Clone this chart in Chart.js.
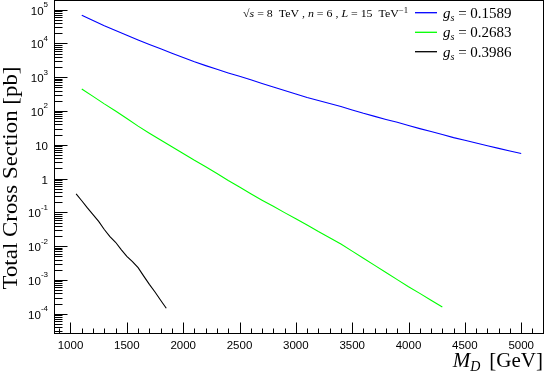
<!DOCTYPE html>
<html>
<head>
<meta charset="utf-8">
<script src="https://cdn.jsdelivr.net/npm/chart.js@4/dist/chart.umd.min.js"></script>
<style>
  html, body { margin: 0; padding: 0; background: #fff; }
  #wrap { width: 545px; height: 372px; }
</style>
</head>
<body>
<div id="wrap"><canvas id="xsec" width="545" height="372"></canvas></div>
<script>
// M_D values [GeV]
const massBlue = [1100, 1200, 1300, 1400, 1500, 1600, 1700, 1800, 1900, 2000,
  2100, 2200, 2300, 2400, 2500, 2600, 2700, 2800, 2900, 3000,
  3100, 3200, 3300, 3400, 3500, 3600, 3700, 3800, 3900, 4000,
  4100, 4200, 4300, 4400, 4500, 4600, 4700, 4800, 4900, 5000];
const massGreen = [1100, 1200, 1300, 1400, 1500, 1600, 1700, 1800, 1900, 2000,
  2100, 2200, 2300, 2400, 2500, 2600, 2700, 2800, 2900, 3000,
  3100, 3200, 3300, 3400, 3500, 3600, 3700, 3800, 3900, 4000,
  4100, 4200, 4300];
const massBlack = [1050, 1100, 1150, 1200, 1250, 1300, 1350, 1400, 1450,
  1500, 1550, 1600, 1650, 1700, 1750, 1800, 1850];

// total cross section [pb]
const xsecBlue = [6.8e4, 4.7e4, 3.3e4, 2.4e4, 1.74e4, 1.26e4, 9300, 6900, 5100, 3800,
  2850, 2190, 1700, 1330, 1060, 840, 650, 510, 400, 316,
  251, 204, 166, 135, 107, 85, 69, 56, 46, 37,
  30, 24.5, 20, 16.2, 13.5, 11.2, 9.3, 7.8, 6.5, 5.5];
const xsecGreen = [447, 269, 162, 100, 60, 35.5, 21.9, 13.8, 8.7, 5.5,
  3.47, 2.24, 1.41, 0.87, 0.56, 0.355, 0.229, 0.151, 0.098, 0.065,
  0.042, 0.027, 0.0178, 0.0115, 0.0071, 0.0044, 0.0027, 0.00166, 0.00102, 0.00063,
  0.00040, 0.00025, 0.000158];
const xsecBlack = [0.35, 0.22, 0.135, 0.085, 0.054, 0.031, 0.019, 0.0130, 0.0079,
  0.0050, 0.0035, 0.0023, 0.0013, 0.00074, 0.00044, 0.00025, 0.000145];

const couplings = ['0.1589', '0.2683', '0.3986'];
const lineColors = ['#0000ff', '#00ff00', '#000000'];

const xTicks = [1000, 1500, 2000, 2500, 3000, 3500, 4000, 4500, 5000];
const yDecades = [-4, -3, -2, -1, 0, 1, 2, 3, 4, 5];

const toPoints = (xs, ys) => xs.map((x, i) => ({ x: x, y: ys[i] }));

const SANS = '"Liberation Sans", Arial, sans-serif';
const SERIF = '"Liberation Serif", "DejaVu Serif", serif';

// draw a row of [text, font, dy, extraGap] pieces starting at x
function drawPieces(ctx, pieces, x, baseline) {
  let cx = x;
  pieces.forEach(p => {
    ctx.font = p[1];
    ctx.fillText(p[0], cx, baseline + (p[2] || 0));
    cx += ctx.measureText(p[0]).width + (p[3] || 0);
  });
  return cx;
}
function piecesWidth(ctx, pieces) {
  let w = 0;
  pieces.forEach(p => { ctx.font = p[1]; w += ctx.measureText(p[0]).width + (p[3] || 0); });
  return w;
}

const rootFrame = {
  id: 'rootFrame',
  afterDraw(chart) {
    const ctx = chart.ctx;
    const a = chart.chartArea;
    const xs = chart.scales.x;
    const ys = chart.scales.y;
    ctx.save();
    ctx.strokeStyle = '#000';
    ctx.fillStyle = '#000';
    ctx.lineWidth = 1;

    // frame
    ctx.strokeRect(a.left, a.top, a.right - a.left, a.bottom - a.top);

    // x ticks (inside, bottom)
    ctx.beginPath();
    for (let v = 900; v <= 5100; v += 100) {
      const px = Math.round(xs.getPixelForValue(v)) + 0.5;
      const len = v % 500 === 0 ? 11 : 5;
      ctx.moveTo(px, a.bottom);
      ctx.lineTo(px, a.bottom - len);
    }
    // y ticks (inside, left)
    for (let n = -5; n <= 5; n++) {
      for (let k = 1; k <= 9; k++) {
        const v = k * Math.pow(10, n);
        if (v < ys.min || v > ys.max) continue;
        const py = Math.round(ys.getPixelForValue(v)) + 0.5;
        const len = k === 1 ? 13 : 8;
        ctx.moveTo(a.left, py);
        ctx.lineTo(a.left + len, py);
      }
    }
    ctx.stroke();

    // x labels
    ctx.font = '11.5px ' + SANS;
    ctx.textAlign = 'center';
    ctx.textBaseline = 'alphabetic';
    xTicks.forEach(v => {
      ctx.fillText(String(v), xs.getPixelForValue(v), 348.5);
    });

    // y labels
    ctx.textAlign = 'left';
    yDecades.forEach(n => {
      const py = ys.getPixelForValue(Math.pow(10, n));
      let pieces;
      if (n === 0) pieces = [['1', '11.5px ' + SANS, 0]];
      else if (n === 1) pieces = [['10', '11.5px ' + SANS, 0]];
      else pieces = [['10', '11.5px ' + SANS, 0], [String(n), '8px ' + SANS, -7.5]];
      const w = piecesWidth(ctx, pieces);
      drawPieces(ctx, pieces, 48 - w, py + 5);
    });

    // y title
    ctx.save();
    ctx.translate(17, 178);
    ctx.rotate(-Math.PI / 2);
    ctx.font = '21px ' + SERIF;
    ctx.textAlign = 'center';
    const yTitle = 'Total Cross Section [pb]';
    const sx = 223 / ctx.measureText(yTitle).width;
    ctx.scale(sx, 1);
    ctx.fillText(yTitle, 0, 0);
    ctx.restore();

    // x title
    const xTitle = [
      ['M', 'italic 21px ' + SERIF, 0],
      ['D', 'italic 14px ' + SERIF, 4, 9],
      ['[GeV]', '21px ' + SERIF, 0]
    ];
    drawPieces(ctx, xTitle, 543 - piecesWidth(ctx, xTitle), 366.5);

    // legend header, stretched to the reference width
    const header = [
      ['\u221A', '11px ' + SERIF, 0],
      ['s', 'italic 11px ' + SERIF, 0],
      [' = 8  TeV , ', '11px ' + SERIF, 0],
      ['n', 'italic 11px ' + SERIF, 0],
      [' = 6 , ', '11px ' + SERIF, 0],
      ['L', 'italic 11px ' + SERIF, 0],
      [' = 15  TeV', '11px ' + SERIF, 0],
      ['\u22121', '8px ' + SERIF, -4]
    ];
    ctx.save();
    ctx.translate(243, 17);
    ctx.scale(165 / piecesWidth(ctx, header), 1);
    drawPieces(ctx, header, 0, 0);
    ctx.restore();

    // legend rows
    const rowY = [12.7, 32.3, 51.7];
    couplings.forEach((g, i) => {
      ctx.strokeStyle = lineColors[i];
      ctx.lineWidth = 1.3;
      ctx.beginPath();
      ctx.moveTo(415, rowY[i]);
      ctx.lineTo(437, rowY[i]);
      ctx.stroke();
      ctx.fillStyle = '#000';
      drawPieces(ctx, [
        ['g', 'italic 15px ' + SERIF, 0],
        ['s', 'italic 10px ' + SERIF, 3],
        [' = ' + g, '15px ' + SERIF, 0]
      ], 443, rowY[i] + 4.8);
    });

    ctx.restore();
  }
};

const ds = (label, pts, color) => ({
  label: label,
  data: pts,
  borderColor: color,
  backgroundColor: color,
  borderWidth: 1.1,
  pointRadius: 0,
  tension: 0,
  fill: false
});

new Chart(document.getElementById('xsec').getContext('2d'), {
  type: 'line',
  data: {
    datasets: [
      ds('g_s = ' + couplings[0], toPoints(massBlue, xsecBlue), lineColors[0]),
      ds('g_s = ' + couplings[1], toPoints(massGreen, xsecGreen), lineColors[1]),
      ds('g_s = ' + couplings[2], toPoints(massBlack, xsecBlack), lineColors[2])
    ]
  },
  options: {
    responsive: false,
    animation: false,
    layout: { padding: { left: 54.5, right: 1.5, top: 0.5, bottom: 38.5 } },
    plugins: {
      legend: { display: false },
      tooltip: { enabled: false },
      title: { display: false }
    },
    scales: {
      x: { type: 'linear', min: 858, max: 5198, display: false },
      y: { type: 'logarithmic', min: 2.6e-5, max: 1.85e5, display: false }
    }
  },
  plugins: [rootFrame]
});
</script>
</body>
</html>
